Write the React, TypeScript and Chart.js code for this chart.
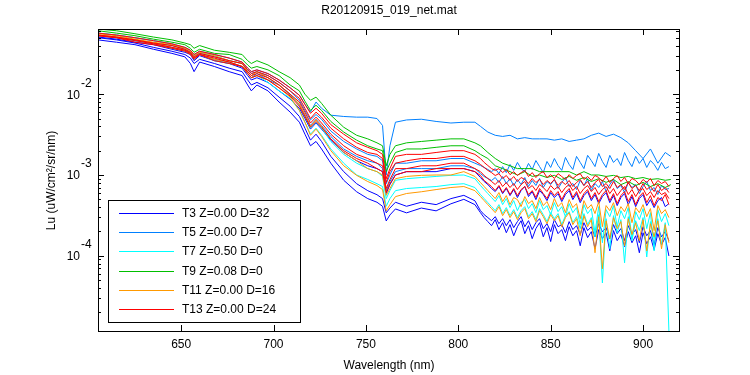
import React, { useEffect, useRef } from 'react';
import { Chart, registerables } from 'chart.js';

Chart.register(...registerables);

// Wavelength grids (nm)
const headWaves = [605,615,625,635,645,652,655,657,660,668,676,683,686,688,691,697,703,709,714,717,720,723,726,731,738,745,751,756,759,761,763,766,772,780,788,796,803,809];
const sparseTailWaves = [812,816,820,824,828,832,836,840,844,848,852,856,860,864,868,872,876,880,884,888,892,896,900,904,908,912,915];
const denseTailWaves = [812,814,816,818,820,822,824,826,828,830,832,834,836,838,840,842,844,846,848,850,852,854,856,858,860,862,864,866,868,870,872,874,876,878,880,882,884,886,888,890,892,894,896,898,900,902,904,906,908,910,912,914];

// T3 (blue)
const t3aHead = [.047,.044,.041,.036,.032,.029,.024,.019,.025,.022,.019,.017,.013,.011,.013,.011,.0080,.0060,.0045,.0032,.0023,.0026,.0021,.0014,.00086,.00062,.00051,.00046,.00041,.00027,.00032,.00038,.00034,.00039,.00036,.00044,.00050,.00043];
const t3aTail = [3.42e-4,2.97e-4,2.65e-4,2.36e-4,2.80e-4,2.11e-4,2.57e-4,1.93e-4,2.43e-4,1.77e-4,2.29e-4,2.72e-4,1.88e-4,2.36e-4,1.63e-4,2.17e-4,2.57e-4,1.72e-4,2.23e-4,1.50e-4,2.43e-4,1.88e-4,2.11e-4,1.54e-4,2.29e-4,1.77e-4,2.05e-4,1.33e-4,2.23e-4,1.68e-4,1.99e-4,1.22e-4,2.11e-4,1.63e-4,1.93e-4,1.15e-4,2.05e-4,1.54e-4,1.83e-4,1.30e-4,1.99e-4,1.45e-4,1.77e-4,1.09e-4,1.93e-4,1.41e-4,1.72e-4,1.19e-4,1.88e-4,1.37e-4,1.68e-4,0.995e-4];
const t3bHead = [.050,.047,.043,.038,.034,.031,.028,.024,.027,.024,.021,.019,.015,.013,.014,.012,.0092,.0071,.0053,.0038,.0027,.0032,.0026,.0017,.0011,.00078,.00064,.00057,.00051,.00034,.00039,.00046,.00041,.00046,.00043,.00051,.00056,.00048];
const t3bTail = [3.62e-4,3.23e-4,2.97e-4,2.72e-4,3.05e-4,2.50e-4,2.88e-4,2.36e-4,2.80e-4,2.23e-4,2.65e-4,3.05e-4,2.29e-4,2.72e-4,2.11e-4,2.57e-4,2.88e-4,2.17e-4,2.50e-4,1.99e-4,2.80e-4,2.29e-4,2.43e-4,1.93e-4,2.65e-4,2.11e-4,2.36e-4,1.83e-4,2.57e-4,2.05e-4,2.29e-4,1.72e-4,2.50e-4,1.99e-4,2.23e-4,1.63e-4,2.43e-4,1.88e-4,2.17e-4,1.54e-4,2.36e-4,1.83e-4,2.11e-4,1.45e-4,2.29e-4,1.77e-4,2.05e-4,1.37e-4,2.23e-4,1.72e-4,1.99e-4,1.54e-4];
const t3cHead = [.051,.048,.044,.041,.036,.033,.031,.026,.030,.026,.024,.021,.017,.015,.016,.014,.011,.0087,.0067,.0050,.0037,.0044,.0037,.0027,.0019,.0015,.0013,.0012,.0011,.00059,.00076,.0010,.0011,.0011,.0011,.0012,.0012,.0011];
const t3cTail = [9.31e-4,8.31e-4,7.62e-4,6.80e-4,6.24e-4,7.20e-4,5.89e-4,6.80e-4,5.56e-4,6.61e-4,5.26e-4,6.42e-4,7.20e-4,5.41e-4,6.24e-4,4.96e-4,6.42e-4,5.73e-4,4.82e-4,6.06e-4,5.26e-4,5.89e-4,4.69e-4,5.73e-4,6.42e-4,4.96e-4,5.89e-4,4.55e-4,5.56e-4,6.24e-4,4.82e-4,5.73e-4,4.43e-4,5.41e-4,6.06e-4,4.55e-4,5.56e-4,4.18e-4,5.26e-4,5.89e-4,4.30e-4,5.41e-4,4.06e-4,5.11e-4,5.73e-4,4.18e-4,4.96e-4,3.95e-4,4.82e-4,5.26e-4,4.06e-4,4.43e-4];

// T5 (light blue)
const t5aHead = [.057,.054,.050,.046,.042,.038,.035,.031,.034,.031,.028,.025,.021,.019,.020,.018,.015,.012,.0097,.0075,.0060,.0080,.0067,.0055,.0053,.0052,.0052,.0050,.0041,.0010,.0023,.0045,.0048,.0049,.0046,.0044,.0045,.0045];
const t5aTail = [.0040,.0034,.0031,.0030,.0031,.0028,.0029,.0028,.0028,.0028,.0027,.0028,.0026,.0027,.0028,.0031,.0033,.0030,.0032,.0029,.0025,.0020,.0016,.0021,.0014,.0019,.0017];
const t5bHead = [.054,.051,.047,.043,.040,.036,.033,.030,.032,.029,.026,.024,.020,.018,.019,.017,.014,.011,.0084,.0063,.0048,.0056,.0049,.0035,.0026,.0021,.0018,.0017,.0015,.00078,.0010,.0014,.0014,.0015,.0015,.0016,.0016,.0014];
const t5bTail = [13.1e-4,12.4e-4,11.7e-4,11.0e-4,12.0e-4,10.4e-4,12.7e-4,10.7e-4,13.5e-4,11.4e-4,14.3e-4,12.0e-4,11.0e-4,13.9e-4,11.7e-4,15.1e-4,12.7e-4,10.7e-4,14.7e-4,12.4e-4,16.0e-4,13.1e-4,11.4e-4,16.5e-4,13.5e-4,11.7e-4,17.0e-4,14.3e-4,12.0e-4,17.5e-4,15.1e-4,12.7e-4,18.5e-4,14.7e-4,12.4e-4,17.5e-4,14.3e-4,16.0e-4,13.1e-4,19.0e-4,15.1e-4,12.7e-4,17.0e-4,13.9e-4,16.0e-4,12.4e-4,15.1e-4,13.5e-4,11.4e-4,14.3e-4,12.0e-4,12.7e-4];
const t5cHead = [.053,.050,.046,.042,.038,.035,.032,.028,.031,.027,.025,.022,.018,.016,.018,.015,.013,.0097,.0075,.0056,.0041,.0049,.0041,.0030,.0021,.0017,.0015,.0014,.0012,.00064,.00083,.0011,.0012,.0012,.0012,.0013,.0013,.0012];
const t5cTail = [10.4e-4,9.58e-4,9.05e-4,8.55e-4,9.31e-4,8.07e-4,9.58e-4,7.85e-4,9.05e-4,7.41e-4,8.80e-4,7.62e-4,9.31e-4,7.20e-4,8.55e-4,7.41e-4,9.05e-4,7.00e-4,8.31e-4,7.62e-4,8.80e-4,6.80e-4,8.07e-4,9.31e-4,7.20e-4,7.85e-4,6.61e-4,8.55e-4,7.41e-4,9.05e-4,6.42e-4,7.85e-4,7.00e-4,8.31e-4,6.24e-4,7.62e-4,8.80e-4,6.80e-4,7.41e-4,6.06e-4,8.07e-4,7.00e-4,7.62e-4,5.89e-4,7.20e-4,8.31e-4,6.42e-4,7.00e-4,5.73e-4,7.41e-4,6.61e-4,6.80e-4];

// T7 (cyan)
const t7aHead = [.057,.054,.050,.046,.042,.037,.034,.030,.033,.030,.026,.024,.019,.017,.019,.016,.013,.010,.0073,.0053,.0038,.0045,.0038,.0026,.0018,.0014,.0012,.0011,.00096,.00051,.00064,.00086,.00090,.00093,.00096,.00099,.0010,.00090];
const t7aTail = [7.41e-4,6.61e-4,5.89e-4,5.26e-4,4.69e-4,5.56e-4,4.30e-4,5.11e-4,3.95e-4,4.82e-4,3.62e-4,4.55e-4,4.96e-4,3.84e-4,4.43e-4,3.42e-4,4.82e-4,3.73e-4,4.18e-4,3.23e-4,4.55e-4,3.52e-4,4.06e-4,3.05e-4,4.43e-4,3.42e-4,3.95e-4,2.43e-4,4.30e-4,3.33e-4,3.84e-4,1.93e-4,4.06e-4,1.45e-4,3.73e-4,3.05e-4,4.18e-4,2.29e-4,3.62e-4,2.88e-4,3.95e-4,1.63e-4,3.52e-4,2.80e-4,3.84e-4,2.17e-4,3.42e-4,1.15e-4,3.73e-4,2.65e-4,3.33e-4,2.36e-4];
const t7bHead = [.053,.050,.046,.042,.037,.034,.031,.027,.031,.026,.024,.022,.018,.016,.017,.014,.011,.0089,.0063,.0045,.0032,.0038,.0031,.0021,.0014,.0010,.00088,.00078,.00072,.00041,.00051,.00064,.00068,.00070,.00072,.00076,.00078,.00070];
const t7bTail = [5.73e-4,5.11e-4,4.55e-4,4.06e-4,3.62e-4,4.30e-4,3.33e-4,3.95e-4,3.14e-4,3.73e-4,2.97e-4,3.62e-4,4.06e-4,3.05e-4,3.52e-4,2.80e-4,3.84e-4,3.23e-4,2.65e-4,3.42e-4,2.88e-4,3.33e-4,2.43e-4,3.14e-4,3.52e-4,2.57e-4,3.05e-4,2.17e-4,3.33e-4,2.43e-4,2.97e-4,1.72e-4,3.23e-4,0.462e-4,2.88e-4,1.22e-4,3.14e-4,1.93e-4,2.80e-4,0.818e-4,3.05e-4,1.54e-4,2.72e-4,2.05e-4,2.97e-4,0.967e-4,2.65e-4,1.63e-4,2.88e-4,1.37e-4,2.57e-4,0.117e-4];

// T9 (green)
const t9aHead = [.064,.061,.056,.051,.047,.043,.041,.037,.040,.035,.033,.031,.026,.024,.026,.023,.019,.016,.013,.010,.0084,.0092,.0077,.0055,.0039,.0031,.0028,.0025,.0023,.0013,.0018,.0023,.0025,.0026,.0027,.0028,.0028,.0025];
const t9aTail = [.0023,.0019,.0016,.0014,.0013,.0012,.0012,.0012,.0011,.0011,.0011,.0011,.0011,.0010,.0011,.0010,.0010,.00096,.00099,.00093,.00096,.00090,.00093,.00088,.00090,.00086,.00088];
const t9bHead = [.061,.057,.053,.048,.044,.041,.037,.033,.036,.032,.031,.027,.023,.021,.022,.020,.017,.013,.011,.0082,.0063,.0073,.0063,.0046,.0034,.0027,.0023,.0021,.0020,.0011,.0014,.0019,.0021,.0021,.0022,.0023,.0023,.0020];
const t9bTail = [.0018,.0016,.0013,.0012,.0011,.0010,.0011,.00096,.0010,.00093,.00099,.00088,.00096,.00086,.00093,.00083,.00090,.00081,.00088,.00076,.00083,.00074,.00081,.00072,.00078,.00070,.00076];

// T11 (orange)
const t11aHead = [.056,.053,.048,.044,.041,.037,.034,.030,.033,.030,.026,.024,.019,.017,.019,.016,.013,.010,.0075,.0055,.0040,.0048,.0040,.0028,.0019,.0015,.0012,.0011,.0010,.00056,.00068,.00090,.00096,.00099,.0010,.0010,.0011,.00096];
const t11aTail = [8.07e-4,7.20e-4,6.42e-4,5.73e-4,5.11e-4,6.06e-4,4.69e-4,5.56e-4,4.30e-4,5.26e-4,4.96e-4,4.06e-4,5.41e-4,4.43e-4,4.82e-4,3.84e-4,5.26e-4,4.18e-4,4.69e-4,3.73e-4,5.11e-4,4.06e-4,4.55e-4,3.42e-4,4.96e-4,3.95e-4,4.43e-4,2.88e-4,4.82e-4,3.84e-4,4.30e-4,3.33e-4,4.69e-4,2.29e-4,4.18e-4,3.62e-4,4.55e-4,3.14e-4,4.06e-4,3.52e-4,4.43e-4,2.57e-4,3.95e-4,3.42e-4,4.30e-4,3.05e-4,3.84e-4,2.05e-4,4.18e-4,3.33e-4,3.73e-4,2.97e-4];
const t11bHead = [.054,.051,.047,.043,.038,.035,.032,.028,.031,.027,.025,.022,.018,.016,.017,.015,.012,.0092,.0063,.0045,.0031,.0037,.0030,.0020,.0013,.00099,.00083,.00074,.00066,.00036,.00043,.00054,.00059,.00062,.00066,.00070,.00072,.00064];
const t11bTail = [5.41e-4,4.82e-4,4.30e-4,3.84e-4,3.42e-4,4.06e-4,3.14e-4,3.73e-4,2.97e-4,3.52e-4,2.80e-4,3.42e-4,3.84e-4,2.88e-4,3.33e-4,2.65e-4,3.62e-4,3.05e-4,2.50e-4,3.23e-4,2.72e-4,3.14e-4,2.29e-4,2.97e-4,3.42e-4,2.43e-4,2.88e-4,1.77e-4,3.14e-4,2.29e-4,2.80e-4,1.09e-4,3.05e-4,0.69e-4,2.72e-4,1.63e-4,2.97e-4,2.17e-4,2.65e-4,1.33e-4,2.88e-4,1.83e-4,2.57e-4,1.54e-4,2.80e-4,1.15e-4,2.50e-4,1.72e-4,2.72e-4,1.22e-4,2.43e-4,1.45e-4];

// T13 (red)
const t13aHead = [.057,.054,.050,.046,.042,.038,.035,.031,.034,.031,.028,.025,.021,.019,.020,.018,.015,.012,.0097,.0075,.0058,.0067,.0058,.0042,.0032,.0025,.0022,.0020,.0018,.00090,.0012,.0017,.0018,.0018,.0019,.0020,.0020,.0018];
const t13aTail = [16.0e-4,14.3e-4,13.1e-4,12.0e-4,11.4e-4,12.0e-4,10.7e-4,11.7e-4,10.1e-4,11.0e-4,9.86e-4,10.7e-4,11.4e-4,9.58e-4,10.7e-4,9.31e-4,10.4e-4,11.0e-4,9.31e-4,10.1e-4,9.05e-4,10.4e-4,9.58e-4,8.80e-4,10.1e-4,9.05e-4,9.86e-4,10.4e-4,8.80e-4,9.58e-4,8.55e-4,9.86e-4,9.31e-4,8.31e-4,9.58e-4,8.07e-4,9.05e-4,9.86e-4,8.31e-4,9.31e-4,7.85e-4,9.05e-4,8.55e-4,7.62e-4,8.80e-4,8.07e-4,9.05e-4,7.41e-4,8.55e-4,7.85e-4,8.31e-4,7.20e-4];
const t13bHead = [.054,.051,.047,.043,.040,.036,.033,.029,.032,.029,.026,.024,.020,.018,.019,.017,.014,.011,.0089,.0067,.0050,.0060,.0052,.0038,.0028,.0022,.0019,.0018,.0016,.00081,.0011,.0014,.0015,.0016,.0016,.0017,.0017,.0015];
const t13bTail = [13.5e-4,12.4e-4,11.4e-4,10.7e-4,9.86e-4,10.4e-4,9.05e-4,9.86e-4,8.55e-4,9.58e-4,8.31e-4,9.31e-4,8.80e-4,7.85e-4,9.05e-4,8.07e-4,8.80e-4,7.62e-4,8.55e-4,7.85e-4,8.80e-4,7.41e-4,8.31e-4,7.62e-4,8.55e-4,7.20e-4,8.07e-4,8.80e-4,7.41e-4,8.31e-4,7.00e-4,8.07e-4,8.80e-4,7.20e-4,7.85e-4,6.80e-4,8.31e-4,7.00e-4,7.62e-4,6.61e-4,8.07e-4,6.80e-4,7.41e-4,6.42e-4,7.85e-4,6.61e-4,7.20e-4,6.24e-4,7.62e-4,6.42e-4,7.00e-4,6.06e-4];
const t13cHead = [.053,.050,.046,.042,.038,.035,.032,.028,.031,.028,.025,.022,.019,.017,.018,.016,.013,.010,.0080,.0060,.0044,.0052,.0044,.0032,.0023,.0018,.0016,.0014,.0013,.00068,.00088,.0012,.0012,.0013,.0013,.0014,.0014,.0012];
const t13cTail = [11.0e-4,9.86e-4,9.05e-4,8.31e-4,7.62e-4,8.55e-4,7.20e-4,8.07e-4,7.00e-4,7.85e-4,6.61e-4,7.62e-4,8.31e-4,6.80e-4,7.41e-4,6.42e-4,7.62e-4,7.00e-4,6.24e-4,7.41e-4,6.61e-4,7.20e-4,6.06e-4,7.00e-4,7.62e-4,6.42e-4,7.20e-4,5.89e-4,6.80e-4,7.41e-4,6.24e-4,7.00e-4,5.73e-4,6.61e-4,7.20e-4,5.89e-4,6.80e-4,5.56e-4,6.42e-4,7.20e-4,5.73e-4,6.61e-4,5.41e-4,6.42e-4,6.80e-4,5.56e-4,6.24e-4,5.26e-4,6.42e-4,5.73e-4,6.06e-4,5.11e-4];
const t13dHead = [.053,.050,.044,.041,.037,.034,.031,.027,.031,.026,.024,.022,.018,.016,.017,.015,.012,.0095,.0071,.0053,.0039,.0046,.0039,.0028,.0020,.0016,.0014,.0012,.0011,.00061,.00078,.0010,.0011,.0011,.0012,.0012,.0012,.0011];
const t13dTail = [9.86e-4,8.55e-4,7.85e-4,7.20e-4,6.42e-4,7.41e-4,6.06e-4,7.00e-4,5.73e-4,6.80e-4,5.56e-4,6.61e-4,7.20e-4,5.73e-4,6.42e-4,5.26e-4,6.80e-4,5.89e-4,5.11e-4,6.42e-4,5.56e-4,6.24e-4,4.96e-4,6.06e-4,6.80e-4,5.26e-4,6.24e-4,4.82e-4,5.89e-4,6.61e-4,5.11e-4,6.06e-4,4.69e-4,5.73e-4,6.42e-4,4.82e-4,5.89e-4,4.43e-4,5.56e-4,6.24e-4,4.69e-4,5.73e-4,4.30e-4,5.41e-4,6.06e-4,4.55e-4,5.56e-4,4.18e-4,5.26e-4,4.82e-4,5.73e-4,4.30e-4];

const legendLabels = ['T3 Z=0.00 D=32', 'T5 Z=0.00 D=7', 'T7 Z=0.50 D=0', 'T9 Z=0.08 D=0', 'T11 Z=0.00 D=16', 'T13 Z=0.00 D=24'];
const groupColors = ['#0000ff', '#0080ff', '#00ffff', '#00bf00', '#ff9900', '#ff0000'];
// [head, tail, tail grid]
const groupSeries: [number[], number[], number[]][][] = [
  [[t3aHead, t3aTail, denseTailWaves], [t3bHead, t3bTail, denseTailWaves], [t3cHead, t3cTail, denseTailWaves]],
  [[t5aHead, t5aTail, sparseTailWaves], [t5bHead, t5bTail, denseTailWaves], [t5cHead, t5cTail, denseTailWaves]],
  [[t7aHead, t7aTail, denseTailWaves], [t7bHead, t7bTail, denseTailWaves]],
  [[t9aHead, t9aTail, sparseTailWaves], [t9bHead, t9bTail, sparseTailWaves]],
  [[t11aHead, t11aTail, denseTailWaves], [t11bHead, t11bTail, denseTailWaves]],
  [[t13aHead, t13aTail, denseTailWaves], [t13bHead, t13bTail, denseTailWaves], [t13cHead, t13cTail, denseTailWaves], [t13dHead, t13dTail, denseTailWaves]],
];

const xTicks = [650, 700, 750, 800, 850, 900];
const yTicks = [1e-2, 1e-3, 1e-4];
const yTickExponents = ['-2', '-3', '-4'];
const titleText = 'R20120915_019_net.mat';
const xLabel = 'Wavelength (nm)';
const yLabel = 'Lu (uW/cm\u00b2/sr/nm)';

const X_MIN = 605;
const X_MAX = 920;
const Y_MIN = 1.14e-5;
const Y_MAX = 0.0641;

const FONT = '"Liberation Sans", Arial, Helvetica, sans-serif';

const matlabPlugin = {
  id: 'matlabAxes',
  afterDatasetsDraw(chart: any) {
    const { ctx, chartArea: a, scales } = chart;
    const xs = scales.x;
    const ys = scales.y;
    ctx.save();
    ctx.strokeStyle = '#000';
    ctx.lineWidth = 1;
    ctx.strokeRect(a.left + 0.5, a.top + 0.5, a.right - a.left - 1, a.bottom - a.top - 1);
    const bottom = a.bottom - 1;
    const right = a.right - 1;
    ctx.beginPath();
    for (const v of xTicks) {
      const px = Math.round(xs.getPixelForValue(v)) + 0.5;
      ctx.moveTo(px, bottom); ctx.lineTo(px, bottom - 6);
      ctx.moveTo(px, a.top); ctx.lineTo(px, a.top + 6);
    }
    for (let n = -6; n <= -1; n++) {
      for (let k = 1; k <= 9; k++) {
        const v = k * Math.pow(10, n);
        if (v < Y_MIN || v > Y_MAX) continue;
        const py = Math.round(ys.getPixelForValue(v)) + 0.5;
        const len = k === 1 ? 6 : 3;
        ctx.moveTo(a.left, py); ctx.lineTo(a.left + len, py);
        ctx.moveTo(right, py); ctx.lineTo(right - len, py);
      }
    }
    ctx.stroke();

    ctx.fillStyle = '#000';
    ctx.font = `12px ${FONT}`;
    ctx.textBaseline = 'middle';
    ctx.textAlign = 'center';
    for (const v of xTicks) {
      ctx.fillText(String(v), xs.getPixelForValue(v), 345);
    }
    yTicks.forEach((v, i) => {
      const py = ys.getPixelForValue(v);
      ctx.textAlign = 'right';
      ctx.fillText('10', 80, py + 1);
      ctx.textAlign = 'left';
      ctx.fillText(yTickExponents[i], 81, py - 11);
    });
    ctx.textAlign = 'center';
    ctx.fillText(titleText, (a.left + a.right) / 2, 11);
    ctx.fillText(xLabel, (a.left + a.right) / 2, 366);
    ctx.save();
    ctx.translate(52, (a.top + a.bottom) / 2);
    ctx.rotate(-Math.PI / 2);
    ctx.fillText(yLabel, 0, 0);
    ctx.restore();

    // legend
    const lx = 108, ly = 200, lw = 192, lh = 122;
    ctx.fillStyle = '#fff';
    ctx.fillRect(lx, ly, lw, lh);
    ctx.strokeStyle = '#000';
    ctx.strokeRect(lx + 0.5, ly + 0.5, lw, lh);
    legendLabels.forEach((lab, i) => {
      const yy = Math.round(213 + i * 19.2) + 0.5;
      ctx.beginPath();
      ctx.strokeStyle = groupColors[i];
      ctx.moveTo(119, yy);
      ctx.lineTo(174, yy);
      ctx.stroke();
      ctx.fillStyle = '#000';
      ctx.textAlign = 'left';
      ctx.fillText(lab, 182, yy);
    });
    ctx.restore();
  },
};

export default function App() {
  const ref = useRef<HTMLCanvasElement | null>(null);
  useEffect(() => {
    document.body.style.margin = '0';
    const canvas = ref.current;
    if (!canvas) return;
    const datasets: any[] = [];
    // red group first so it is drawn on top
    for (let g = groupSeries.length - 1; g >= 0; g--) {
      groupSeries[g].forEach(([head, tail, tailWaves], j) => {
        const pts = headWaves.map((x, i) => ({ x, y: head[i] }))
          .concat(tailWaves.map((x, i) => ({ x, y: tail[i] })));
        datasets.push({
          label: j === 0 ? legendLabels[g] : legendLabels[g] + ' #' + (j + 1),
          data: pts,
          borderColor: groupColors[g],
          backgroundColor: groupColors[g],
          borderWidth: 1,
          pointRadius: 0,
          tension: 0,
          fill: false,
        });
      });
    }
    const chart = new Chart(canvas, {
      type: 'line',
      data: { datasets },
      options: {
        animation: false,
        responsive: false,
        devicePixelRatio: 1,
        layout: { padding: { left: 98, right: 70, top: 29, bottom: 43 } },
        scales: {
          x: { type: 'linear', min: X_MIN, max: X_MAX, display: false },
          y: { type: 'logarithmic', min: Y_MIN, max: Y_MAX, display: false },
        },
        plugins: { legend: { display: false }, title: { display: false }, tooltip: { enabled: false } },
        events: [],
      },
      plugins: [matlabPlugin],
    });
    return () => chart.destroy();
  }, []);
  return (
    <div style={{ width: 750, height: 375, background: '#fff' }}>
      <canvas ref={ref} width={750} height={375} style={{ display: 'block' }} />
    </div>
  );
}
